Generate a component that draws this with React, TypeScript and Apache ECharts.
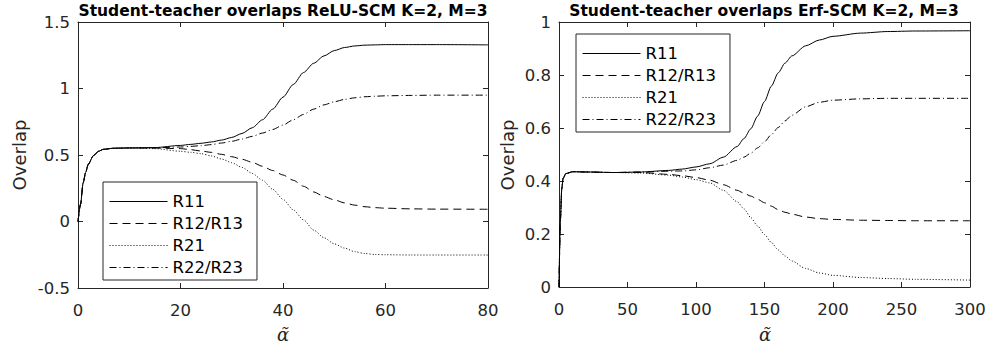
import React, { useEffect, useRef } from "react";
import * as echarts from "echarts";

// ---------- data ----------
const seriesNames = ["R11", "R12/R13", "R21", "R22/R23"];

// Left panel: ReLU-SCM
const reluAlpha = [0, 0.5, 1, 1.5, 2, 3, 4, 5, 7, 10, 15, 20, 22, 24, 26, 28, 30, 32, 34, 36, 38, 40, 42, 44, 46, 48, 50, 52, 54, 56, 58, 60, 65, 70, 80];
const reluR11 = [0, 0.13, 0.29, 0.37, 0.43, 0.495, 0.528, 0.543, 0.551, 0.553, 0.556, 0.572, 0.58, 0.588, 0.598, 0.612, 0.632, 0.662, 0.705, 0.765, 0.845, 0.935, 1.03, 1.12, 1.19, 1.245, 1.285, 1.308, 1.32, 1.326, 1.328, 1.33, 1.33, 1.33, 1.328];
const reluR12 = [0, 0.13, 0.29, 0.37, 0.43, 0.495, 0.528, 0.543, 0.551, 0.553, 0.552, 0.548, 0.54, 0.53, 0.52, 0.505, 0.487, 0.468, 0.445, 0.415, 0.383, 0.35, 0.31, 0.265, 0.222, 0.188, 0.163, 0.14, 0.123, 0.111, 0.104, 0.1, 0.095, 0.093, 0.092];
const reluR21 = [0, 0.13, 0.29, 0.37, 0.43, 0.495, 0.528, 0.543, 0.551, 0.553, 0.548, 0.528, 0.52, 0.51, 0.493, 0.47, 0.442, 0.407, 0.362, 0.31, 0.242, 0.167, 0.088, 0.012, -0.065, -0.122, -0.168, -0.2, -0.227, -0.241, -0.248, -0.25, -0.252, -0.252, -0.252];
const reluR22 = [0, 0.13, 0.29, 0.37, 0.43, 0.495, 0.528, 0.543, 0.551, 0.553, 0.554, 0.56, 0.565, 0.57, 0.578, 0.59, 0.603, 0.62, 0.64, 0.665, 0.692, 0.725, 0.765, 0.805, 0.845, 0.877, 0.9, 0.918, 0.93, 0.938, 0.942, 0.945, 0.948, 0.95, 0.95];

// Right panel: Erf-SCM
const erfAlpha = [0, 1, 2, 3, 5, 10, 20, 40, 60, 80, 90, 100, 110, 120, 130, 135, 140, 145, 150, 155, 160, 165, 170, 180, 190, 200, 220, 240, 260, 300];
const erfR11 = [0, 0.25, 0.37, 0.41, 0.428, 0.435, 0.434, 0.432, 0.434, 0.44, 0.445, 0.453, 0.465, 0.49, 0.53, 0.56, 0.597, 0.645, 0.7, 0.758, 0.808, 0.845, 0.872, 0.91, 0.932, 0.946, 0.958, 0.964, 0.966, 0.967];
const erfR12 = [0, 0.25, 0.37, 0.41, 0.428, 0.435, 0.434, 0.432, 0.432, 0.425, 0.42, 0.413, 0.403, 0.386, 0.365, 0.354, 0.343, 0.331, 0.318, 0.305, 0.292, 0.282, 0.275, 0.264, 0.258, 0.255, 0.252, 0.251, 0.25, 0.25];
const erfR21 = [0, 0.25, 0.37, 0.41, 0.428, 0.435, 0.434, 0.432, 0.43, 0.422, 0.415, 0.405, 0.393, 0.365, 0.322, 0.295, 0.262, 0.23, 0.198, 0.168, 0.14, 0.117, 0.098, 0.07, 0.053, 0.044, 0.036, 0.032, 0.029, 0.026];
const erfR22 = [0, 0.25, 0.37, 0.41, 0.428, 0.435, 0.434, 0.432, 0.434, 0.437, 0.438, 0.442, 0.45, 0.46, 0.478, 0.49, 0.505, 0.525, 0.548, 0.575, 0.602, 0.627, 0.648, 0.68, 0.697, 0.705, 0.71, 0.712, 0.712, 0.712];

const titles = ["Student-teacher overlaps ReLU-SCM K=2, M=3", "Student-teacher overlaps Erf-SCM K=2, M=3"];
const xAxisLabel = "α\u0303";
const yAxisLabel = "Overlap";

// ---------- styles ----------
const AX = "#262626";
const FONT = "DejaVu Sans";
const dashTypes: any[] = ["solid", [8, 5], [1, 2], [7, 3, 1, 3]];

const zip = (xs: number[], ys: number[]) => xs.map((x, i) => [x, ys[i]]);

function makeAxes(gridIndex: number, xmin: number, xmax: number, xint: number, ymin: number, ymax: number, yint: number) {
  const tick = { show: true, inside: true, length: 5, lineStyle: { color: AX, width: 1 } };
  const line = { show: true, onZero: false, lineStyle: { color: AX, width: 1 } };
  const label = { color: AX, fontFamily: FONT, fontSize: 16.5 };
  const xs = [
    {
      type: "value", gridIndex, min: xmin, max: xmax, interval: xint, position: "bottom",
      axisLine: line, axisTick: tick, splitLine: { show: false },
      axisLabel: { ...label, margin: 14 },
    },
    {
      type: "value", gridIndex, min: xmin, max: xmax, interval: xint, position: "top",
      axisLine: line, axisTick: tick, splitLine: { show: false }, axisLabel: { show: false },
    },
  ];
  const ys = [
    {
      type: "value", gridIndex, min: ymin, max: ymax, interval: yint, position: "left",
      axisLine: line, axisTick: tick, splitLine: { show: false },
      axisLabel: { ...label, margin: 8 },
    },
    {
      type: "value", gridIndex, min: ymin, max: ymax, interval: yint, position: "right",
      axisLine: line, axisTick: tick, splitLine: { show: false }, axisLabel: { show: false },
    },
  ];
  return { xs, ys };
}

function makeSeries(xIndex: number, yIndex: number, xs: number[], ysList: number[][]) {
  return ysList.map((ys, i) => ({
    name: seriesNames[i],
    type: "line",
    xAxisIndex: xIndex,
    yAxisIndex: yIndex,
    data: zip(xs, ys),
    symbol: "none",
    showSymbol: false,
    smooth: 0.25,
    smoothMonotone: "x",
    lineStyle: { color: "#000", width: 1, type: dashTypes[i] },
    itemStyle: { color: "#000" },
    silent: true,
  }));
}

function makeLegend(left: number, top: number) {
  return {
    show: true,
    data: seriesNames,
    orient: "vertical",
    left,
    top,
    itemWidth: 58,
    itemHeight: 14,
    itemGap: 5,
    padding: [11, 14, 4, 6],
    borderColor: AX,
    borderWidth: 1,
    backgroundColor: "#fff",
    selectedMode: false,
    itemStyle: { opacity: 0, borderWidth: 0, color: "transparent" },
    lineStyle: { width: 1, opacity: 1 },
    textStyle: { color: "#000", fontFamily: FONT, fontSize: 16.5, lineHeight: 16 },
  };
}

export default function App() {
  const ref = useRef<HTMLDivElement>(null);
  useEffect(() => {
    document.body.style.margin = "0";
    if (!ref.current) return;
    const chart = echarts.init(ref.current, undefined, { renderer: "svg" });
    const a = makeAxes(0, 0, 80, 20, -0.5, 1.5, 0.5);
    const b = makeAxes(1, 0, 300, 50, 0, 1, 0.2);
    const textStyle = (t: string, extra: any) => ({ text: t, fill: AX, fontFamily: FONT, ...extra });
    chart.setOption({
      animation: false,
      backgroundColor: "#fff",
      grid: [
        { left: 78, top: 22, width: 410, height: 266 },
        { left: 559, top: 22, width: 411, height: 265 },
      ],
      xAxis: [...a.xs, ...b.xs],
      yAxis: [...a.ys, ...b.ys],
      legend: [makeLegend(103, 182), makeLegend(576, 34)],
      series: [
        ...makeSeries(0, 0, reluAlpha, [reluR11, reluR12, reluR21, reluR22]),
        ...makeSeries(2, 2, erfAlpha, [erfR11, erfR12, erfR21, erfR22]),
      ],
      graphic: [
        { type: "text", x: 283, y: 11, style: textStyle(titles[0], { fontSize: 15.5, fontWeight: "bold", fill: "#000", textAlign: "center", textVerticalAlign: "middle" }) },
        { type: "text", x: 764, y: 11, style: textStyle(titles[1], { fontSize: 15.5, fontWeight: "bold", fill: "#000", textAlign: "center", textVerticalAlign: "middle" }) },
        { type: "text", x: 19, y: 155, rotation: Math.PI / 2, style: textStyle(yAxisLabel, { fontSize: 18, textAlign: "center", textVerticalAlign: "middle" }) },
        { type: "text", x: 507, y: 155, rotation: Math.PI / 2, style: textStyle(yAxisLabel, { fontSize: 18, textAlign: "center", textVerticalAlign: "middle" }) },
        { type: "text", x: 283, y: 334, style: textStyle(xAxisLabel, { fontSize: 18, fontFamily: "DejaVu Serif", fontStyle: "italic", textAlign: "center", textVerticalAlign: "middle" }) },
        { type: "text", x: 765, y: 334, style: textStyle(xAxisLabel, { fontSize: 18, fontFamily: "DejaVu Serif", fontStyle: "italic", textAlign: "center", textVerticalAlign: "middle" }) },
      ],
    });
    return () => chart.dispose();
  }, []);
  return <div ref={ref} style={{ width: 989, height: 349 }} />;
}
